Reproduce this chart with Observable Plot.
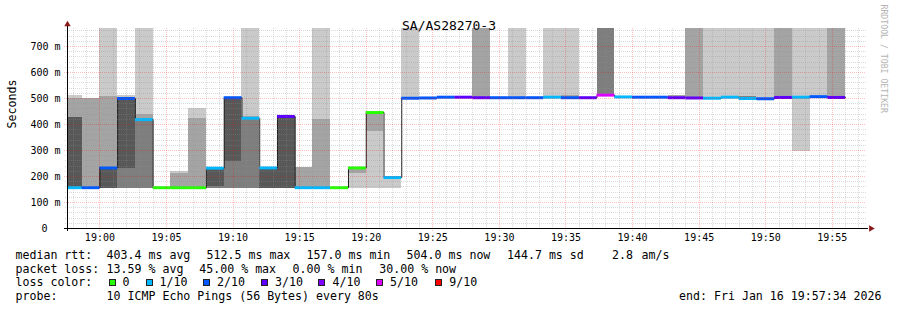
<!DOCTYPE html>
<html>
<head>
<meta charset="utf-8">
<script src="https://cdn.jsdelivr.net/npm/d3@7"></script>
<script src="https://cdn.jsdelivr.net/npm/@observablehq/plot@0.6"></script>
<style>
  html, body { margin: 0; padding: 0; background: #ffffff; }
  #wrap { position: relative; width: 897px; height: 310px; overflow: hidden; background: #ffffff;
          font-family: "DejaVu Sans Mono", monospace; color: #000; }
  #wrap svg { display: block; }
  .lg { position: absolute; white-space: pre; font-size: 11.6px; line-height: normal; font-family: "DejaVu Sans Mono", monospace; }
  .box { position: absolute; width: 5px; height: 5px; border: 1px solid #222; }
</style>
</head>
<body>
<div id="wrap"></div>
<script>
// ---------------- data ----------------
const chartTitle = "SA/AS28270-3";
const yAxisTitle = "Seconds";
const watermark = "RRDTOOL / TOBI OETIKER";
const firstIntervalStart = "2026-01-16T18:57:20Z";
const stepSeconds = 80;
const viewStart = "2026-01-16T18:57:34Z";
const viewEnd = "2026-01-16T19:57:34Z";
const yMaxMs = 769.2;

// median rtt per 80 s step (ms)
const medianMs = [157,157,233,500,419,157,157,157,232,503,
                  424,233,431,157,157,157,233,446,196,501,
                  502,505,505,503,503,503,503,505,503,503,
                  513,506,505,505,503,502,501,505,500,499,
                  504,505,507,504];
// lost pings out of 10 per step
const lossCount = [1,2,2,2,1,0,0,0,1,2,
                   1,1,3,1,1,0,0,0,1,2,
                   2,2,3,3,2,2,2,1,2,3,
                   5,1,2,2,3,3,1,1,1,2,
                   3,1,2,3];
// sorted ping rtts per step (ms); 1000 = above the graph maximum
const pingsMs = [
  [157,157,157,157,157,157,427,427,501,511],
  [157,157,157,157,157,157,157,157,500,500],
  [155,155,155,155,233,233,233,233,507,1000],
  [155,155,155,232,500,500,500,500,505,511],
  [155,155,155,419,419,419,419,419,438,1000],
  [157,157,157,157,157,157,157,157,157,157],
  [157,157,157,157,157,157,157,157,213,220],
  [157,157,157,157,157,157,157,157,424,460],
  [155,155,155,160,232,232,232,232,232,232],
  [155,155,155,259,503,503,503,503,503,503],
  [155,155,155,424,424,424,424,424,430,1000],
  [155,155,155,155,233,233,233,233,233,233],
  [155,155,155,155,431,431,431,431,431,431],
  [157,157,157,157,157,157,157,157,235,235],
  [157,157,157,157,157,157,157,157,421,1000],
  [157,157,157,157,157,157,157,157,157,157],
  [155,213,233,233,233,233,233,233,233,233],
  [155,374,446,446,446,446,446,446,446,448],
  [155,196,196,196,196,196,196,196,196,196],
  [497,501,501,501,501,501,501,501,501,1000],
  [502,502,502,502,502,502,502,502,502,502],
  [505,505,505,505,505,505,505,505,505,505],
  [505,505,505,505,505,505,505,505,505,505],
  [503,503,503,503,503,503,503,503,1000,1000],
  [498,503,503,503,503,503,503,503,503,503],
  [503,503,503,503,503,503,503,503,503,1000],
  [503,503,503,503,503,503,503,503,503,503],
  [503,505,505,505,505,505,505,505,505,1000],
  [503,503,503,503,503,503,503,503,510,1000],
  [500,503,503,503,503,503,503,503,503,503],
  [508,510,513,513,513,513,513,1000,1000,1000],
  [502,502,506,506,506,506,506,506,506,506],
  [505,505,505,505,505,505,505,505,505,505],
  [505,505,505,505,505,505,505,505,505,505],
  [503,503,503,503,503,503,503,503,510,510],
  [502,502,502,502,502,502,502,502,1000,1000],
  [501,501,501,501,501,501,501,501,501,1000],
  [505,505,505,505,505,505,505,505,505,1000],
  [496,500,500,500,500,500,500,506,506,1000],
  [494,499,499,499,499,499,499,499,499,1000],
  [497,497,497,504,504,504,504,504,1000,1000],
  [297,505,505,505,505,505,505,505,505,1000],
  [500,507,507,507,507,507,507,507,507,1000],
  [504,504,504,504,504,504,504,504,1000,1000]
];

const lossLevels = [0,1,2,3,4,5,9];
const lossLabels = ["0","1/10","2/10","3/10","4/10","5/10","9/10"];
const lossColors = ["#26ff00","#00b8ff","#0059ff","#5e00ff","#7e00ff","#dd00ff","#ff0000"];
const smokeShades = ["#cacaca","#a4a4a4","#7e7e7e","#585858","#323232"];

const yTickValues = [100,200,300,400,500,600,700];
const xTickLabels = ["19:00","19:05","19:10","19:15","19:20","19:25","19:30","19:35","19:40","19:45","19:50","19:55"];
const tickDate = "2026-01-16";

const rttStatValues = [403.4, 512.5, 157.0, 504.0, 144.7];
const rttStatNames = ["avg","max","min","now","sd"];
const amPerSecond = 2.8;
const lossStatValues = [13.59, 45.00, 0.00, 30.00];
const lossStatNames = ["avg","max","min","now"];
const probeText = "10 ICMP Echo Pings (56 Bytes) every 80s";
const endText = "end: Fri Jan 16 19:57:34 2026";

// ---------------- build ----------------
const t0 = Date.parse(firstIntervalStart);
const intervals = medianMs.map((m, k) => ({
  start: new Date(t0 + k * stepSeconds * 1000),
  end: new Date(t0 + (k + 1) * stepSeconds * 1000),
  median: m, loss: lossCount[k], pings: pingsMs[k]
}));
function lossColorOf(l) {
  for (let i = 0; i < lossLevels.length; i++) if (l <= lossLevels[i]) return lossColors[i];
  return lossColors[lossColors.length - 1];
}
const smoke = [];
for (const d of intervals) {
  for (let i = 0; i < 5; i++) {
    const lo = d.pings[i], hi = d.pings[9 - i];
    if (lo == null || hi == null || hi <= lo) continue;
    smoke.push({start: d.start, end: d.end, lo, hi: Math.min(hi, yMaxMs * 1.02), fill: smokeShades[i]});
  }
}
const stepPts = intervals.map(d => ({t: d.start, v: d.median}));
stepPts.push({t: intervals[intervals.length - 1].end, v: intervals[intervals.length - 1].median});

const xs = new Date(viewStart), xe = new Date(viewEnd);
const minutes = d3.utcMinute.range(xs, xe);
const xMajor = minutes.filter(d => d.getUTCMinutes() % 5 === 0);
const xMinor = minutes.filter(d => d.getUTCMinutes() % 5 !== 0);
const yMinor = d3.range(20, yMaxMs, 20).filter(v => v % 100 !== 0);
const yMajor = d3.range(100, yMaxMs, 100);
const xTickDates = xTickLabels.map(s => new Date(`${tickDate}T${s}:00Z`));

const gridMinor = {stroke: "#8f8f8f", strokeOpacity: 0.32, strokeDasharray: "1,1", shapeRendering: "crispEdges"};
const gridMajor = {stroke: "#ff0000", strokeOpacity: 0.26, strokeDasharray: "1,1", shapeRendering: "crispEdges"};

const chart = Plot.plot({
  width: 897, height: 250,
  marginLeft: 67, marginRight: 31, marginTop: 28, marginBottom: 22,
  x: {type: "utc", domain: [xs, xe], label: null},
  y: {domain: [0, yMaxMs], label: null},
  color: {type: "identity"},
  style: {fontFamily: '"DejaVu Sans Mono", monospace', fontSize: "10px", background: "#ffffff", color: "#000", overflow: "visible"},
  marks: [
    Plot.rect(smoke, {x1: "start", x2: "end", y1: "lo", y2: "hi", fill: "fill", clip: true, shapeRendering: "crispEdges"}),
    Plot.line(stepPts, {x: "t", y: "v", curve: "step-after", stroke: "#202020", strokeWidth: 1, clip: true}),
    Plot.ruleY(intervals, {x1: "start", x2: "end", y: "median", stroke: d => lossColorOf(d.loss), strokeWidth: 3, clip: true}),
    Plot.ruleX(xMinor, {...gridMinor, insetBottom: -2}),
    Plot.ruleX(xMajor, {...gridMajor, insetBottom: -3}),
    Plot.ruleY(yMinor, {...gridMinor, insetLeft: -2}),
    Plot.ruleY(yMajor, {...gridMajor, insetLeft: -3}),
    Plot.ruleY([0], {stroke: "#000", insetLeft: -3, insetRight: -2, shapeRendering: "crispEdges"}),
    Plot.ruleX([xs], {stroke: "#000", insetTop: -4, insetBottom: -3, shapeRendering: "crispEdges"}),
    Plot.dot([xs], {x: d => d, y: () => yMaxMs, symbol: "triangle", r: 2.4, fill: "#8b1a1a", stroke: null, dy: -4}),
    Plot.dot([xe], {x: d => d, y: () => 0, symbol: "triangle", r: 2.4, rotate: 90, fill: "#8b1a1a", stroke: null, dx: 4.5}),
    Plot.axisY(yTickValues, {tickFormat: d => `${d} m`, tickSize: 0, tickPadding: 7, label: null}),
    Plot.axisY([0], {tickFormat: d => `${d}`, tickSize: 0, tickPadding: 20, label: null}),
    Plot.axisX(xTickDates, {tickFormat: d3.utcFormat("%H:%M"), tickSize: 0, tickPadding: 5, label: null}),
    Plot.text([chartTitle], {frameAnchor: "top", dx: -18, dy: -8, fontSize: 13, fill: "#000"}),
    Plot.text([yAxisTitle], {frameAnchor: "left", dx: -55.5, rotate: -90, fontSize: 11.6, fill: "#000"}),
    Plot.text([watermark], {frameAnchor: "top-right", dx: 20, dy: -24, rotate: 90, textAnchor: "start", fontSize: 8.2, fill: "#b4b4b4"})
  ]
});
const wrap = document.getElementById("wrap");
wrap.appendChild(chart);

// ---------------- legend (below the chart) ----------------
const FS = 11.6, ASC = 0.928 * FS;
function place(str, left, baseline, right) {
  const el = document.createElement("div");
  el.className = "lg";
  el.textContent = str;
  if (right != null) el.style.right = right + "px"; else el.style.left = left + "px";
  el.style.top = (baseline - ASC) + "px";
  wrap.appendChild(el);
}
const rowBase = [258.5, 272.3, 286.2, 300.2];

place("median rtt:", 15.5, rowBase[0]);
const rttLefts = [106.6, 206.6, 306.6, 406.6, 507];
rttStatValues.forEach((v, i) => place(`${v.toFixed(1)} ms ${rttStatNames[i]}`, rttLefts[i], rowBase[0]));
place(amPerSecond.toFixed(1), 612, rowBase[0]);
place("am/s", 641.6, rowBase[0]);

place("packet loss:", 15.5, rowBase[1]);
const lossLefts = [106.6, 199.3, 292.6, 379.3];
lossStatValues.forEach((v, i) => place(`${v.toFixed(2)} % ${lossStatNames[i]}`, lossLefts[i], rowBase[1]));

place("loss color:", 15.5, rowBase[2]);
const boxLefts = [108.5, 145.5, 203, 260.5, 318, 376.2, 434.5];
const labelLefts = [122.6, 159.6, 217, 275, 332.6, 390, 449.3];
lossLabels.forEach((lab, i) => {
  const b = document.createElement("div");
  b.className = "box";
  b.style.left = boxLefts[i] + "px";
  b.style.top = "279.3px";
  b.style.background = lossColors[i];
  wrap.appendChild(b);
  place(lab, labelLefts[i], rowBase[2]);
});

place("probe:", 15.5, rowBase[3]);
place(probeText, 106.6, rowBase[3]);
place(endText, null, rowBase[3], 15.5);
</script>
</body>
</html>
